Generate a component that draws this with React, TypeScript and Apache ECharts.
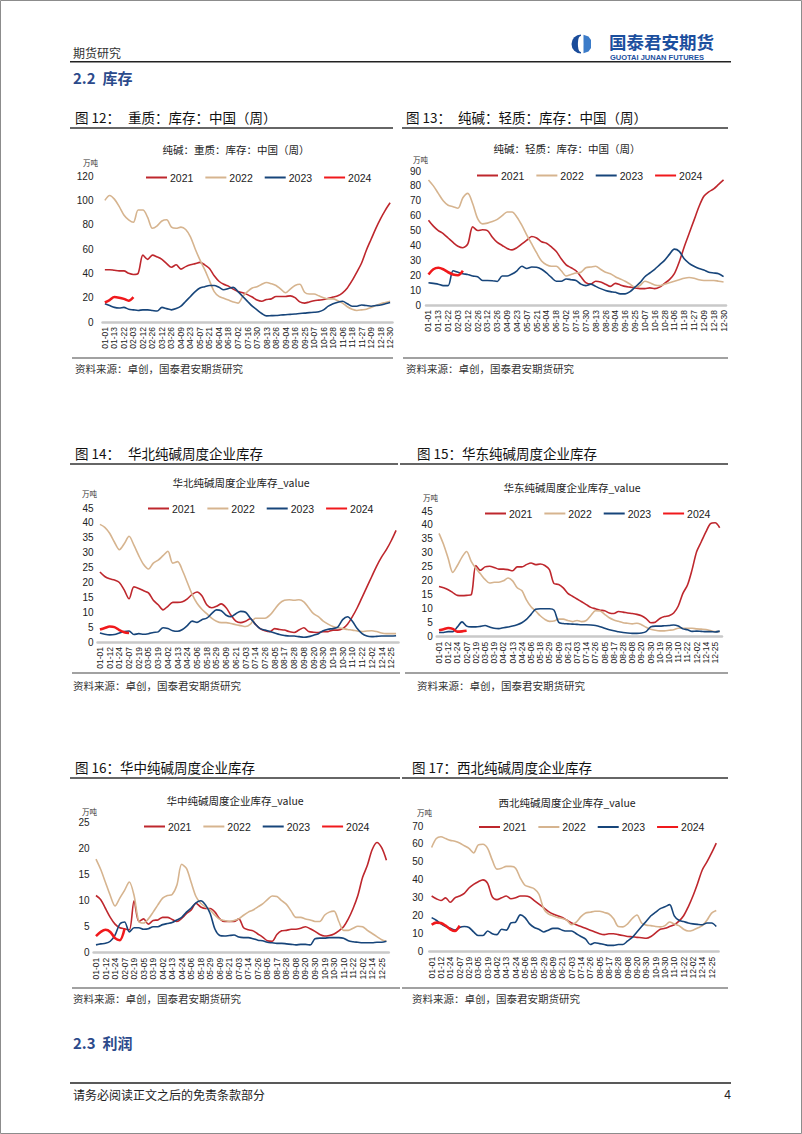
import React, { useEffect, useRef } from "react";
import * as echarts from "echarts";

const NUM_FONT = "'Liberation Sans Narrow', 'Arial Narrow', 'Liberation Sans', Arial, sans-serif";
const CJK_FONT = "'Noto Sans CJK SC', 'Noto Sans', sans-serif";

// ---------- categories ----------
const CATS_A = [
  "01-01", "01-07", "01-13", "01-18", "01-22", "01-28", "02-03", "02-07", "02-12", "02-19",
  "02-26", "03-05", "03-12", "03-19", "03-26", "04-02", "04-09", "04-16", "04-23", "04-30",
  "05-07", "05-14", "05-21", "05-28", "06-04", "06-11", "06-18", "06-25", "07-02", "07-09",
  "07-16", "07-23", "07-30", "08-06", "08-13", "08-20", "08-26", "08-31", "09-04", "09-10",
  "09-16", "09-21", "09-25", "10-01", "10-07", "10-12", "10-16", "10-22", "10-28", "11-02",
  "11-06", "11-12", "11-18", "11-23", "11-27", "12-03", "12-09", "12-14", "12-18", "12-24",
  "12-30",
];
const CATS_B = [
  "01-01", "01-06", "01-12", "01-18", "01-24", "01-31", "02-07", "02-13", "02-19", "02-26",
  "03-05", "03-12", "03-19", "03-26", "04-02", "04-08", "04-13", "04-18", "04-24", "04-29",
  "05-06", "05-12", "05-18", "05-23", "05-29", "06-03", "06-09", "06-15", "06-21", "06-27",
  "07-03", "07-08", "07-14", "07-20", "07-26", "07-31", "08-05", "08-11", "08-17", "08-22",
  "08-28", "09-02", "09-08", "09-14", "09-20", "09-25", "09-30", "10-09", "10-19", "10-24",
  "10-30", "11-04", "11-10", "11-16", "11-22", "11-27", "12-02", "12-08", "12-14", "12-19",
  "12-25", "12-31",
];

const YEARS = ["2021", "2022", "2023", "2024"];

// ---------- 图12 重质 ----------
const HEAVY_2021 = [43, 43, 42.5, 42, 42, 40, 39, 40, 55, 51.5, 55, 53.5, 51.5, 48, 45, 47, 43.5, 45.5, 47, 48, 49, 47, 44, 38, 33.5, 31, 29.5, 27, 25, 24, 22.5, 20.5, 18, 17, 18.5, 19, 21, 21, 21, 21.5, 20, 16.5, 15.5, 16.5, 17.5, 18, 18.5, 19.5, 20.5, 21.5, 24, 28, 34, 41, 48.5, 59, 68, 77, 85, 92, 98];
const HEAVY_2022 = [100, 104, 101, 95, 88, 84, 82, 92, 92, 86, 77, 79, 83, 84, 78, 77, 78, 76, 70, 60, 51, 43, 34, 25, 21, 19.5, 18, 16.5, 15.5, 21, 25, 28, 29, 31, 32.5, 31.5, 30, 27, 24, 27, 30, 31, 24.5, 23, 23, 21.5, 20, 19, 19, 17.5, 15.5, 12.5, 10.5, 9.5, 10, 10.5, 12, 13.5, 15, 16, 17];
const HEAVY_2023 = [15, 13.5, 12, 11.5, 12, 10.5, 10, 9.5, 10, 10, 9.5, 9, 12, 11, 10, 11, 13, 17, 21, 25, 28, 29, 30, 30, 28.5, 26.5, 27.5, 28.5, 25, 21, 17, 13, 10, 7, 5, 5.2, 5.4, 5.7, 6, 6.3, 6.6, 7, 7.3, 7.7, 8, 8.5, 10, 13, 15, 16.3, 17, 15, 13, 13, 14, 13.5, 13, 13.5, 14, 15, 16];
const HEAVY_2024 = [16, 18, 20.5, 20, 19, 17.5, 20.5];

// ---------- 图13 轻质 ----------
const LIGHT_2021 = [57, 53, 50, 48, 45, 42, 39.5, 38.5, 41, 52.5, 50, 50.5, 50, 45.5, 42, 40, 38, 37, 38.5, 41, 43.5, 46, 45, 42.5, 41.5, 39, 36, 31, 27, 25, 23, 19, 15, 14, 16, 15.5, 14, 12.5, 14.5, 13.5, 12.5, 12, 11.5, 11, 11, 11.5, 11, 12, 14.5, 17, 21, 29, 39, 48, 57, 66, 73, 76, 78, 81, 84];
const LIGHT_2022 = [84, 80, 75, 70, 67, 66, 65, 72, 75, 68, 58, 54.5, 55, 56, 57.5, 60, 62.5, 62.5, 59, 53.5, 47, 41, 35, 29.5, 27, 26, 26, 23, 19.5, 20.5, 21.5, 22, 25, 25.5, 26, 24, 22, 21, 19, 17.5, 16, 14, 12, 13, 16, 15, 13.5, 13, 14, 15, 16, 17, 18, 18.5, 18, 17, 16.5, 16.5, 16.5, 16, 15.5];
const LIGHT_2023 = [15, 14.5, 14, 13, 13, 23, 22, 21, 20.5, 19.5, 19, 16.5, 16.5, 16.3, 15.8, 19.5, 19.5, 20.8, 23, 26, 24.5, 25.5, 25.3, 24, 21.5, 18.5, 16, 16, 17.5, 17, 16.5, 14, 13, 14, 12.5, 11, 9.8, 9, 8.5, 7.5, 7.5, 9, 12, 15, 19, 21.5, 24, 27, 30, 34, 37.5, 36, 31, 28, 26, 24.5, 23.5, 22, 21.5, 21, 19];
const LIGHT_2024 = [20.5, 24, 25, 24, 22, 20.5, 20, 23];

// ---------- 图14 华北 ----------
const NORTH_2021 = [23.5, 22, 21.2, 20.8, 20, 17.5, 14.5, 18.5, 18, 17.2, 16.5, 14, 12.5, 10.8, 12, 13.3, 13.3, 13.5, 14.5, 16, 16.8, 15.5, 12.5, 11.5, 12, 12.8, 11.5, 9, 7, 6.5, 7, 7.8, 6, 4.5, 3.8, 3.5, 4.5, 4.2, 4, 3.5, 3.2, 4, 4.8, 3.5, 3.3, 3.2, 3.5, 3.5, 4, 4, 4.5, 6, 8.5, 11.5, 15, 18.5, 22, 25.5, 28.5, 31, 34, 37.5];
const NORTH_2022 = [39.5, 38.5, 36.5, 33.5, 31, 33, 35.5, 32.5, 29, 26, 24.5, 26.5, 27.5, 29, 30.5, 26.5, 27, 24, 20, 16, 13, 11, 9.5, 8, 7, 6.5, 6.5, 6.2, 5.8, 5.5, 5.2, 6, 8, 8, 8, 9, 11, 13, 14, 14.2, 14, 14.2, 13.5, 11.5, 9.5, 8.5, 7, 6, 5.2, 4.8, 4.5, 4.2, 4, 3.7, 3.5, 3.7, 3.8, 3.5, 3, 2.8, 2.8, 2.8];
const NORTH_2023 = [3, 2.6, 2.4, 2.5, 3, 3.5, 3.7, 2.5, 2.8, 2.6, 2.8, 3.2, 3.4, 4.8, 4.5, 3.8, 3.6, 4.2, 5.5, 7, 6.6, 7.5, 8, 9.5, 10.8, 10.5, 9, 8.5, 9.5, 10.3, 10, 8, 6, 4.5, 4, 3.5, 3, 2.5, 2.2, 2, 2, 1.8, 1.6, 1.8, 2.3, 2.8, 3.8, 4.3, 4.5, 5, 7.5, 8.5, 7, 4.5, 2.8, 2, 1.8, 1.9, 2, 2, 2, 2.1];
const NORTH_2024 = [4.2, 4.7, 5.2, 5, 4, 3.3, 3];

// ---------- 图15 华东 ----------
const EAST_2021 = [18, 17.5, 16.8, 15.8, 14.8, 14.7, 14.8, 15, 25.5, 23.8, 25, 25.2, 24.8, 24.2, 24.2, 24, 23.6, 25, 25, 25.8, 26.4, 25.8, 26, 25.5, 24, 19, 18.7, 17.5, 15.5, 14.5, 13.5, 12.5, 11.5, 10.5, 10, 9.5, 9.3, 8.5, 8.3, 9, 8.8, 8.5, 8.3, 8, 7.5, 6.5, 5, 5.2, 6.5, 7.2, 7.5, 8.5, 11, 15.5, 18.5, 24, 30.5, 34, 37.5, 40.5, 40.8, 39];
const EAST_2022 = [37, 33, 28, 23, 25.5, 28.5, 30.5, 27, 24.5, 22.5, 20.5, 19.2, 19.5, 19.5, 20, 21, 20, 17.5, 16.5, 13.2, 10.7, 9.2, 7.5, 6.2, 5.5, 5.6, 6.3, 6.3, 5.8, 5.4, 5.8, 5.4, 5.8, 7.6, 9.3, 9.2, 8, 6.8, 6, 5.5, 5, 4.8, 4.6, 4.8, 4.3, 3.4, 2.7, 2.3, 2.1, 2.1, 2.3, 2.5, 3, 3, 3, 3, 2.8, 2.7, 2.6, 2.2, 1.8, 1.8];
const EAST_2023 = [1.5, 1.5, 1.8, 1.8, 3.5, 5.3, 3.8, 3.5, 3.5, 3.7, 4, 3.5, 3, 2.9, 3.2, 3.5, 3.8, 4.3, 5, 6.2, 8, 9.8, 10, 10, 10, 9.5, 5.2, 4.7, 4.6, 4.5, 4.4, 4.3, 4.3, 4.2, 4, 3.6, 3, 2.5, 2.1, 1.8, 1.5, 1.3, 1.2, 1.2, 1.3, 1.8, 3.5, 3.8, 3.8, 3.9, 4, 4.2, 3.8, 2.8, 2.5, 1.9, 2, 1.9, 1.8, 1.8, 1.7, 2];
const EAST_2024 = [2.3, 2.7, 3.1, 2.8, 1.8, 1.9, 2.1];

// ---------- 图16 华中 ----------
const CENTRAL_2021 = [11, 10.2, 8.5, 6.8, 5.5, 4.8, 4.6, 4.4, 10, 6, 6.5, 5.5, 6.2, 6.3, 6.8, 6.8, 6.4, 6, 6.6, 7.5, 8.2, 9.5, 8.8, 8.5, 8.5, 7.8, 6.5, 6, 6, 6, 6.5, 4.8, 4.4, 4.2, 3.6, 3, 2.3, 2.2, 3.5, 4.2, 4.3, 4.5, 4.5, 4.7, 5, 4.6, 4.1, 3.5, 3.2, 3.3, 3.6, 4.2, 5, 6.5, 8.5, 11, 14.5, 16.8, 19.8, 21.2, 20.2, 17.8];
const CENTRAL_2022 = [18, 16, 13.5, 11, 9, 10.5, 12, 13.6, 11, 6, 5.7, 6.5, 7.8, 9.2, 10.5, 11, 11.2, 13, 17, 16.2, 13.5, 10.8, 9.5, 8.8, 8.2, 7.2, 6.4, 6.2, 6, 6.2, 6.5, 7.2, 7.8, 8.2, 8.8, 9.4, 10.2, 10.9, 10.8, 10, 9.3, 8, 6.8, 6.8, 6.5, 6.3, 6, 6, 7.2, 7.8, 8, 6, 4.3, 4.3, 4.7, 5.1, 5, 4.3, 3.7, 3.1, 2.5, 2.2];
const CENTRAL_2023 = [1.5, 1.7, 1.8, 2.2, 3.4, 5.5, 5.9, 4, 4.8, 4.8, 4.5, 4.6, 5, 5, 5.4, 5.6, 5.8, 6.3, 6.8, 7.8, 8.6, 9.6, 10, 9.2, 7.5, 4.5, 3.3, 3.2, 3.3, 3.4, 3, 2.9, 2.9, 2.7, 2.4, 2.3, 2, 1.9, 1.8, 1.8, 1.7, 1.6, 1.5, 1.6, 1.6, 1.5, 2.7, 2.8, 2.8, 2.9, 2.9, 2.9, 2.8, 2.3, 2.1, 2, 1.9, 1.9, 1.9, 2, 2, 2.2];
const CENTRAL_2024 = [3.2, 4, 4.4, 4, 2.8, 2.4, 4.6];

// ---------- 图17 西北 ----------
const NW_2021 = [31, 29.5, 28.5, 30, 27.5, 30, 31, 32.5, 35.5, 37.5, 39, 40, 38, 30.5, 29, 30, 31, 29.5, 30, 31, 31, 30.5, 28.5, 26.5, 24.5, 22.5, 21, 20, 19, 17.5, 16, 15, 14, 13, 12, 11, 10, 9.5, 10, 10, 9.5, 9, 8.5, 8.3, 8, 7.8, 7.5, 8.5, 10.5, 12.5, 13, 14, 15, 17, 20, 25, 31, 38, 45.5, 50, 55, 60.5];
const NW_2022 = [58, 63, 64, 63, 62, 61.5, 60.5, 59, 57.5, 55, 59.5, 59.8, 57.5, 51, 46, 46.5, 47.5, 47.5, 46.5, 41, 37, 36, 35, 32, 24, 21, 20, 19, 18.5, 17.5, 15, 16.5, 19.5, 21.5, 22, 22.5, 22.5, 21.8, 21, 18.3, 14, 13.8, 15.5, 18.5, 20.4, 16, 14.8, 14.5, 14, 13.8, 14.5, 16.5, 15.5, 14.5, 12.5, 11.5, 12, 13.2, 14.5, 17.5, 21.5, 23];
const NW_2023 = [19, 17.5, 15.5, 14, 13, 12, 13.5, 14, 13.5, 11, 9, 9, 11.5, 10, 9.5, 12.5, 12, 16, 16.5, 20.5, 19, 15.5, 13.5, 12.5, 11, 12, 13, 13, 12, 11.5, 11.5, 10, 8.5, 7, 4, 5, 4.5, 4, 3.5, 3.5, 4, 4, 6, 8, 11, 14, 17, 20, 22, 24, 25, 26.2, 20, 17.5, 16.8, 16, 15.5, 15.2, 15, 16, 16, 14];
const NW_2024 = [15, 16.2, 16, 14.5, 12.5, 11.5, 14.5];

// ---------- styles ----------
const YEAR_COLORS = ["#BE272D", "#D6B48F", "#17457A", "#F0191C"];
const YEAR_WIDTHS = [1.6, 1.6, 1.6, 2.6];

type Panel = {
  figNo: string; figTitle: string; figX: number; figTitleX: number; figY: number;
  chartTitle: string; titleX: number; titleY: number;
  unitX: number; unitY: number;
  legendLeft: number; legendY: number;
  grid: { left: number; top: number; width: number; height: number };
  yMargin: number; max: number; interval: number;
  cats: string[]; series: number[][];
  topLine: [number, number, number]; bottomLine: [number, number, number];
  srcX: number; srcY: number;
};

const PANELS: Panel[] = [
  {
    figNo: "图 12：", figTitle: "重质：库存：中国（周）", figX: 75, figTitleX: 128, figY: 117,
    chartTitle: "纯碱：重质：库存：中国（周）", titleX: 236, titleY: 149,
    unitX: 83, unitY: 162, legendLeft: 140, legendY: 173,
    grid: { left: 102.5, top: 176, width: 290, height: 146 }, yMargin: 9, max: 120, interval: 20,
    cats: CATS_A, series: [HEAVY_2021, HEAVY_2022, HEAVY_2023, HEAVY_2024],
    topLine: [70, 393, 128], bottomLine: [72, 393, 358], srcX: 75, srcY: 368,
  },
  {
    figNo: "图 13：", figTitle: "纯碱：轻质：库存：中国（周）", figX: 406, figTitleX: 458, figY: 117,
    chartTitle: "纯碱：轻质：库存：中国（周）", titleX: 567, titleY: 148,
    unitX: 413, unitY: 159, legendLeft: 471, legendY: 171,
    grid: { left: 426, top: 171, width: 300, height: 134 }, yMargin: 5, max: 90, interval: 10,
    cats: CATS_A, series: [LIGHT_2021, LIGHT_2022, LIGHT_2023, LIGHT_2024],
    topLine: [402, 728, 128], bottomLine: [403, 728, 358], srcX: 406, srcY: 368,
  },
  {
    figNo: "图 14：", figTitle: "华北纯碱周度企业库存", figX: 75, figTitleX: 128, figY: 453,
    chartTitle: "华北纯碱周度企业库存_value", titleX: 241, titleY: 482,
    unitX: 82, unitY: 493, legendLeft: 142, legendY: 504,
    grid: { left: 97.5, top: 508, width: 301, height: 134 }, yMargin: 4, max: 45, interval: 5,
    cats: CATS_B, series: [NORTH_2021, NORTH_2022, NORTH_2023, NORTH_2024],
    topLine: [70, 398, 464], bottomLine: [72, 400, 673], srcX: 73, srcY: 685,
  },
  {
    figNo: "图 15：华东纯碱周度企业库存", figTitle: "", figX: 417, figTitleX: 0, figY: 453,
    chartTitle: "华东纯碱周度企业库存_value", titleX: 572, titleY: 487,
    unitX: 423, unitY: 497, legendLeft: 479, legendY: 509,
    grid: { left: 436.7, top: 511, width: 285.3, height: 125.7 }, yMargin: 4, max: 45, interval: 5,
    cats: CATS_B, series: [EAST_2021, EAST_2022, EAST_2023, EAST_2024],
    topLine: [400, 728, 464], bottomLine: [405, 728, 673], srcX: 417, srcY: 685,
  },
  {
    figNo: "图 16：华中纯碱周度企业库存", figTitle: "", figX: 75, figTitleX: 0, figY: 767,
    chartTitle: "华中纯碱周度企业库存_value", titleX: 235, titleY: 800,
    unitX: 82, unitY: 811, legendLeft: 138, legendY: 822,
    grid: { left: 93.6, top: 822.7, width: 295.2, height: 130 }, yMargin: 4, max: 25, interval: 5,
    cats: CATS_B, series: [CENTRAL_2021, CENTRAL_2022, CENTRAL_2023, CENTRAL_2024],
    topLine: [70, 400, 778], bottomLine: [72, 400, 988], srcX: 73, srcY: 998,
  },
  {
    figNo: "图 17：西北纯碱周度企业库存", figTitle: "", figX: 412, figTitleX: 0, figY: 767,
    chartTitle: "西北纯碱周度企业库存_value", titleX: 567, titleY: 802,
    unitX: 417, unitY: 812, legendLeft: 473, legendY: 822.5,
    grid: { left: 429.3, top: 826, width: 289.3, height: 125.7 }, yMargin: 6, max: 70, interval: 10,
    cats: CATS_B, series: [NW_2021, NW_2022, NW_2023, NW_2024],
    topLine: [402, 728, 778], bottomLine: [402, 728, 988], srcX: 412, srcY: 998,
  },
];

const SOURCE_TEXT = "资料来源：卓创，国泰君安期货研究";

function text(x: number, y: number, t: string, size: number, opts: any = {}) {
  return {
    type: "text",
    silent: true,
    style: {
      x, y, text: t,
      fill: opts.fill || "#222",
      fontSize: size,
      fontFamily: opts.fontFamily || CJK_FONT,
      fontWeight: opts.fontWeight || "normal",
      textAlign: opts.align || "left",
      textVerticalAlign: "middle",
    },
  };
}

function hline(x1: number, x2: number, y: number, w = 1.3, color = "#333") {
  return { type: "line", silent: true, shape: { x1, y1: y, x2, y2: y }, style: { stroke: color, lineWidth: w } };
}

function buildOption() {
  const grids: any[] = [];
  const xAxes: any[] = [];
  const yAxes: any[] = [];
  const series: any[] = [];
  const legends: any[] = [];
  const elements: any[] = [];

  // page border
  elements.push({ type: "rect", silent: true, shape: { x: 0.5, y: 0.5, width: 801, height: 1133 }, style: { fill: "none", stroke: "#8c8c8c", lineWidth: 1 } });

  // header
  elements.push(text(73, 52, "期货研究", 12, { fill: "#333" }));
  elements.push(hline(70, 731, 61.7, 1.6, "#222"));
  elements.push(text(73, 77.5, "2.2  库存", 15, { fill: "#2B4A8B", fontWeight: "bold" }));
  // logo
  elements.push({ type: "sector", silent: true, shape: { cx: 581, cy: 44, r: 9.5, r0: 0, startAngle: Math.PI / 2, endAngle: (Math.PI * 3) / 2, clockwise: true }, style: { fill: "#1A4C9A" } });
  elements.push({ type: "polygon", silent: true, shape: { points: [[583.5, 34.8], [588.5, 36.5], [591, 40], [591, 48], [588.5, 51.5], [583.5, 53.2]] }, style: { fill: "#3B7BC8" } });
  elements.push({ type: "ellipse", silent: true, shape: { cx: 580.5, cy: 44, rx: 2.6, ry: 8 }, style: { fill: "#ffffff" } });
  elements.push(text(609, 41.5, "国泰君安期货", 17.5, { fill: "#1B4F9E", fontWeight: "bold" }));
  elements.push({
    type: "text", silent: true,
    style: {
      x: 610, y: 57.5, text: "GUOTAI JUNAN FUTURES", fill: "#1B4F9E", fontSize: 7.5, fontWeight: "bold",
      fontFamily: "'Liberation Sans', Arial, sans-serif", textAlign: "left", textVerticalAlign: "middle",
    },
  });

  // footer
  elements.push(text(73, 1042, "2.3  利润", 15, { fill: "#2B4A8B", fontWeight: "bold" }));
  elements.push(hline(70, 731, 1083, 1.5, "#222"));
  elements.push(text(73, 1094, "请务必阅读正文之后的免责条款部分", 12, { fill: "#222" }));
  elements.push(text(731, 1095, "4", 12, { fill: "#222", align: "right", fontFamily: "'Liberation Sans', Arial, sans-serif" }));

  PANELS.forEach((p, i) => {
    grids.push({ ...p.grid, containLabel: false });
    xAxes.push({
      type: "category",
      gridIndex: i,
      data: p.cats,
      boundaryGap: true,
      axisLine: { show: true, lineStyle: { color: "#c9c9c9", width: 2.5 } },
      axisTick: { show: false },
      axisLabel: { interval: 1, rotate: 90, fontSize: 8.5, color: "#222", margin: 5, fontFamily: NUM_FONT },
      splitLine: { show: false },
    });
    yAxes.push({
      type: "value",
      gridIndex: i,
      min: 0,
      max: p.max,
      interval: p.interval,
      axisLine: { show: false },
      axisTick: { show: false },
      splitLine: { show: false },
      axisLabel: { fontSize: 10, color: "#222", margin: p.yMargin, fontFamily: NUM_FONT },
    });
    p.series.forEach((d, j) => {
      series.push({
        type: "line",
        name: YEARS[j],
        xAxisIndex: i,
        yAxisIndex: i,
        data: d,
        symbol: "none",
        smooth: 0.3,
        z: j === 3 ? 5 : 3,
        lineStyle: { color: YEAR_COLORS[j], width: YEAR_WIDTHS[j] },
        itemStyle: { color: YEAR_COLORS[j] },
      });
    });
    legends.push({
      left: p.legendLeft,
      top: p.legendY - 6,
      orient: "horizontal",
      data: YEARS,
      itemWidth: 21,
      itemHeight: 1,
      itemGap: 11,
      selectedMode: false,
      itemStyle: { opacity: 0 },
      textStyle: { fontSize: 10.5, color: "#222", fontFamily: NUM_FONT, padding: [0, 0, 0, -2] },
    });

    // panel texts
    elements.push(text(p.figX, p.figY, p.figNo, 13.5, { fill: "#111" }));
    if (p.figTitle) elements.push(text(p.figTitleX, p.figY, p.figTitle, 13.5, { fill: "#111" }));
    elements.push(hline(p.topLine[0], p.topLine[1], p.topLine[2], 1.5, "#333"));
    elements.push(text(p.titleX, p.titleY, p.chartTitle, 10.5, { fill: "#222", align: "center" }));
    elements.push(text(p.unitX, p.unitY, "万吨", 7.5, { fill: "#333" }));
    elements.push(hline(p.bottomLine[0], p.bottomLine[1], p.bottomLine[2], 1.2, "#444"));
    elements.push(text(p.srcX, p.srcY, SOURCE_TEXT, 10.5, { fill: "#333" }));
  });

  return {
    animation: false,
    backgroundColor: "#ffffff",
    grid: grids,
    xAxis: xAxes,
    yAxis: yAxes,
    legend: legends,
    series,
    graphic: { elements },
  };
}

export default function App() {
  const ref = useRef<HTMLDivElement>(null);
  useEffect(() => {
    if (!ref.current) return;
    const chart = echarts.init(ref.current, undefined, { renderer: "svg" });
    chart.setOption(buildOption() as any);
    return () => chart.dispose();
  }, []);
  return (
    <div
      ref={ref}
      style={{ position: "absolute", left: 0, top: 0, width: 802, height: 1134, background: "#fff" }}
    />
  );
}
